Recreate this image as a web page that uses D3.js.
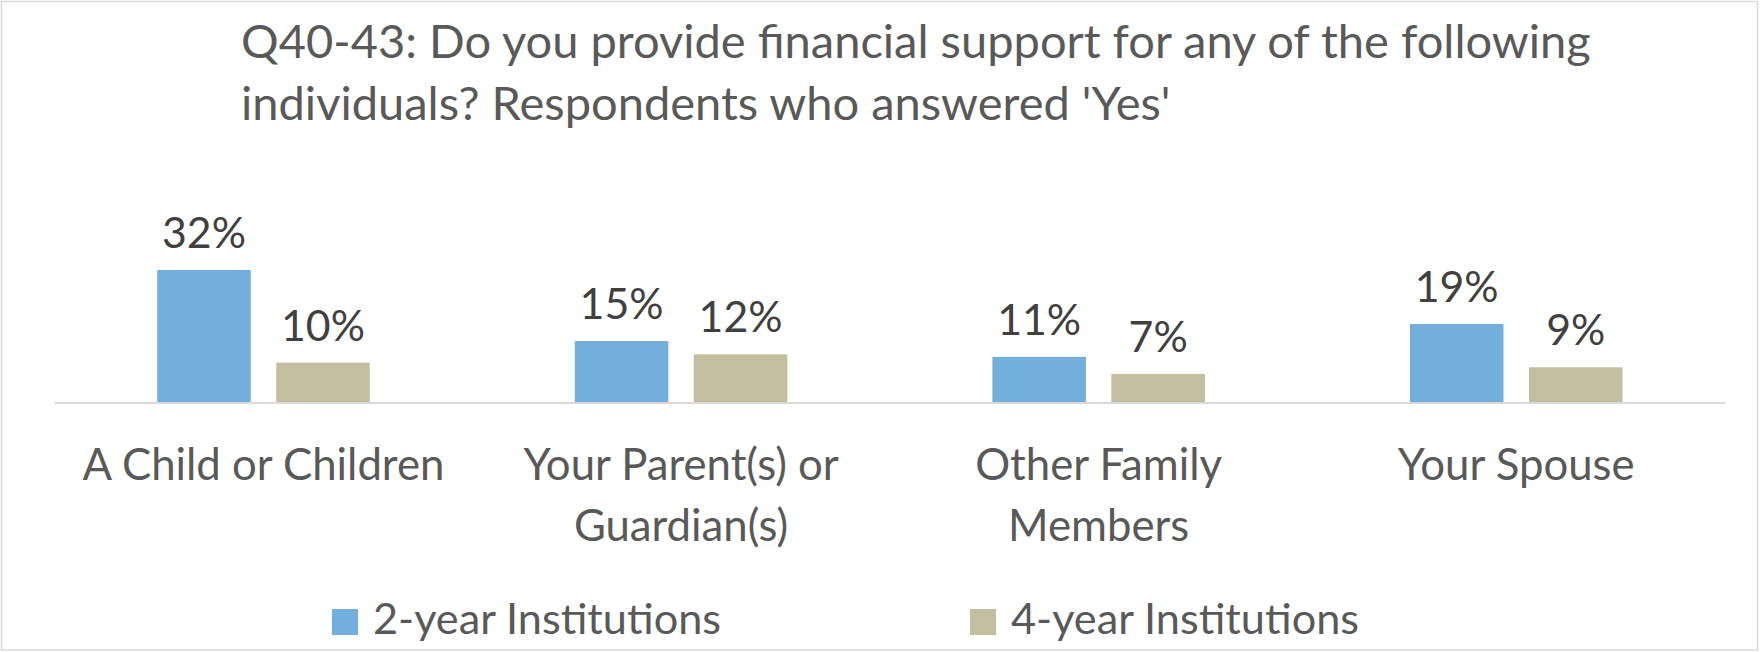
<!DOCTYPE html>
<html>
<head>
<meta charset="utf-8">
<script src="https://cdn.jsdelivr.net/npm/d3@7"></script>
<style>
  html, body { margin: 0; padding: 0; background: #ffffff; }
  svg { display: block; }
  text { font-family: Lato, "Open Sans", "Noto Sans", sans-serif; }
</style>
</head>
<body>
<svg id="chart" width="1760" height="652"></svg>
<script>
// ---- data ----
const titleLines = [
  "Q40-43: Do you provide financial support for any of the following",
  "individuals? Respondents who answered 'Yes'"
];
const categories = ["A Child or Children", "Your Parent(s) or Guardian(s)", "Other Family Members", "Your Spouse"];
const seriesNames = ["2-year Institutions", "4-year Institutions"];
const twoYear = [32.0, 14.9, 11.1, 19.0];
const fourYear = [9.7, 11.7, 7.0, 8.6];
const seriesColors = ["#72AFDC", "#C4BEA0"];
const yDomain = [0, 35];

// ---- setup ----
const W = 1760, H = 652;
const svg = d3.select("#chart");
svg.append("rect").attr("width", W).attr("height", H).attr("fill", "#ffffff");
svg.append("rect")
  .attr("x", 1.5).attr("y", 1.5).attr("width", 1756).attr("height", 648.5)
  .attr("fill", "none").attr("stroke", "#d9d9d9").attr("stroke-width", 1.5);

// choose a font size so that the first title line spans the same width as the reference
const probe = svg.append("text").attr("font-size", 100).text(titleLines[0]);
const probeW = probe.node().getComputedTextLength();
probe.remove();
const FS = Math.min(48, 100 * 1350 / probeW);
const FS_CAT = FS * 0.93;
const FS_LEG = FS * 0.92;
const FS_LBL = FS * 0.91;

// ---- scales ----
const baseY = 403;
const pxPerUnit = 4.156;
const y = d3.scaleLinear().domain(yDomain).range([baseY, baseY - (yDomain[1] - yDomain[0]) * pxPerUnit]);

const x0 = d3.scaleBand().domain(categories).range([54.7, 1725]).paddingInner(0.491).paddingOuter(0.2455);
const x1 = d3.scaleBand().domain(seriesNames).range([0, x0.bandwidth()]).paddingInner(0.214).paddingOuter(0);

const rows = categories.map((c, i) => ({ cat: c, vals: [twoYear[i], fourYear[i]] }));

// ---- title ----
const title = svg.append("text").attr("fill", "#595959").attr("font-size", FS);
titleLines.forEach((t, i) => {
  title.append("tspan").attr("x", 241).attr("y", 58 + i * 62).text(t);
});

// ---- bars ----
const g = svg.append("g");
const groups = g.selectAll("g.grp").data(rows).join("g")
  .attr("class", "grp")
  .attr("transform", d => `translate(${x0(d.cat)},0)`);

groups.selectAll("rect").data(d => d.vals.map((v, j) => ({ v, s: seriesNames[j], j }))).join("rect")
  .attr("x", d => x1(d.s))
  .attr("width", x1.bandwidth())
  .attr("y", d => y(d.v))
  .attr("height", d => y(0) - y(d.v))
  .attr("fill", d => seriesColors[d.j]);

groups.selectAll("text.lbl").data(d => d.vals.map((v, j) => ({ v, s: seriesNames[j], j }))).join("text")
  .attr("class", "lbl")
  .attr("x", d => x1(d.s) + x1.bandwidth() / 2)
  .attr("y", d => y(d.v) - 22)
  .attr("text-anchor", "middle")
  .attr("fill", "#404040")
  .attr("font-size", FS_LBL)
  .text(d => Math.round(d.v) + "%");

// ---- x axis ----
const axis = svg.append("g").attr("transform", `translate(0,${baseY})`)
  .call(d3.axisBottom(x0).tickSize(0).tickPadding(0));
axis.select(".domain").attr("stroke", "#d9d9d9").attr("stroke-width", 2)
  .attr("d", `M${x0.range()[0]},0H${x0.range()[1]}`);
axis.selectAll(".tick text")
  .attr("fill", "#595959")
  .attr("font-size", FS_CAT)
  .attr("font-family", 'Lato, "Open Sans", sans-serif')
  .each(function(d) {
    const t = d3.select(this);
    const words = d.split(" ");
    t.text(null).attr("dy", null).attr("y", null);
    const maxW = 395;
    let line = [];
    let lines = [];
    let tsp = t.append("tspan").attr("x", 0).attr("y", 77);
    words.forEach(w => {
      line.push(w);
      tsp.text(line.join(" "));
      if (tsp.node().getComputedTextLength() > maxW && line.length > 1) {
        line.pop();
        tsp.text(line.join(" "));
        lines.push(tsp);
        line = [w];
        tsp = t.append("tspan").attr("x", 0).attr("y", 77 + 61 * lines.length).text(w);
      }
    });
  });

// ---- legend ----
const legendX = [332, 970];
const leg = svg.append("g").selectAll("g").data(seriesNames).join("g")
  .attr("transform", (d, i) => `translate(${legendX[i]},0)`);
leg.append("rect").attr("x", 0).attr("y", 609).attr("width", 26).attr("height", 26)
  .attr("fill", (d, i) => seriesColors[i]);
leg.append("text").attr("x", 41).attr("y", 634).attr("fill", "#595959").attr("font-size", FS_LEG).text(d => d);
</script>
</body>
</html>
